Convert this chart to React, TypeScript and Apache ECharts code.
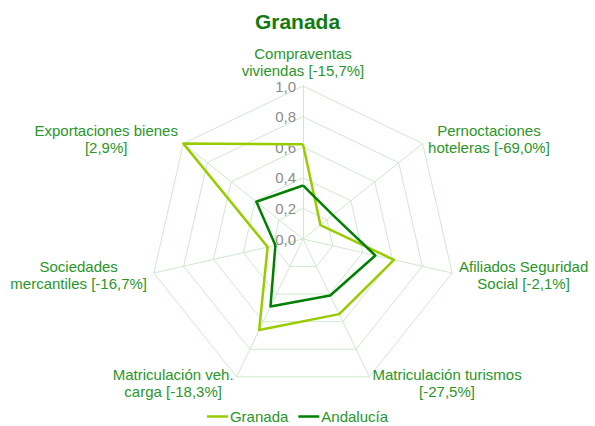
import React, { useEffect, useRef } from "react";
import * as echarts from "echarts";

// Reference order (clockwise from top)
const indicatorNames = [
  "Compraventas\nviviendas [-15,7%]",
  "Pernoctaciones\nhoteleras [-69,0%]",
  "Afiliados Seguridad\nSocial [-2,1%]",
  "Matriculación turismos\n[-27,5%]",
  "Matriculación veh.\ncarga [-18,3%]",
  "Sociedades\nmercantiles [-16,7%]",
  "Exportaciones bienes\n[2,9%]",
];
const granadaValues = [0.62, 0.146, 0.61, 0.545, 0.66, 0.237, 1.0];
const andaluciaValues = [0.35, 0.25, 0.485, 0.41, 0.49, 0.185, 0.39];
const seriesNames = ["Granada", "Andalucía"];
const titleText = "Granada";

// ECharts places indicators counter-clockwise: keep first, reverse the rest
const toCCW = <T,>(arr: T[]): T[] => [arr[0], ...arr.slice(1).reverse()];

const GREEN_TEXT = "#2A952A";
const LIGHT = "#99CC00";
const DARK = "#008000";
const GRID = "#CFE8CF";
const FONT = "Arial, 'Liberation Sans', sans-serif";

export default function App() {
  const ref = useRef<HTMLDivElement>(null);
  useEffect(() => {
    if (!ref.current) return;
    const chart = echarts.init(ref.current, undefined, { renderer: "svg" });
    const names = toCCW(indicatorNames);
    chart.setOption({
      animation: false,
      textStyle: { fontFamily: FONT },
      title: {
        text: titleText,
        left: "center",
        top: 6,
        textStyle: { fontSize: 21, fontWeight: "bold", color: "#117A11", fontFamily: FONT },
      },
      legend: {
        top: 404,
        left: "center",
        data: seriesNames,
        icon: "rect",
        itemWidth: 21,
        itemHeight: 2.5,
        itemGap: 10,
        textStyle: { fontSize: 15, color: GREEN_TEXT, padding: [0, 0, 0, -3], fontFamily: FONT },
      },
      radar: {
        center: [303, 239],
        radius: 153,
        startAngle: 90,
        shape: "polygon",
        splitNumber: 5,
        axisNameGap: 7,
        axisName: {
          color: GREEN_TEXT,
          fontSize: 15,
          formatter: (n: string) =>
            n
              .split("\n")
              .map((l) => `{c|${l}}`)
              .join("\n"),
          rich: {
            c: { align: "center", fontSize: 15, color: GREEN_TEXT, lineHeight: 17, fontFamily: FONT },
          },
        },
        splitArea: { show: false },
        splitLine: { lineStyle: { color: GRID, width: 1 } },
        axisLine: { lineStyle: { color: GRID, width: 1 } },
        axisTick: { show: false },
        axisLabel: {
          show: false,
          color: "#8C8C8C",
          fontSize: 15,
          margin: 7,
          fontFamily: FONT,
          formatter: (v: number) => v.toFixed(1).replace(".", ","),
        },
        indicator: names.map((n, i) => ({
          name: n,
          min: 0,
          max: 1,
          ...(i === 0 ? { axisLabel: { show: true } } : {}),
        })),
      },
      series: [
        {
          type: "radar",
          symbol: "none",
          data: [
            {
              name: seriesNames[0],
              value: toCCW(granadaValues),
              lineStyle: { color: LIGHT, width: 2.5 },
              itemStyle: { color: LIGHT },
            },
            {
              name: seriesNames[1],
              value: toCCW(andaluciaValues),
              lineStyle: { color: DARK, width: 2.5 },
              itemStyle: { color: DARK },
            },
          ],
        },
      ],
    });
    return () => chart.dispose();
  }, []);
  return (
    <div
      ref={ref}
      style={{ position: "fixed", left: 0, top: 0, width: 595, height: 426, background: "#fff" }}
    />
  );
}
